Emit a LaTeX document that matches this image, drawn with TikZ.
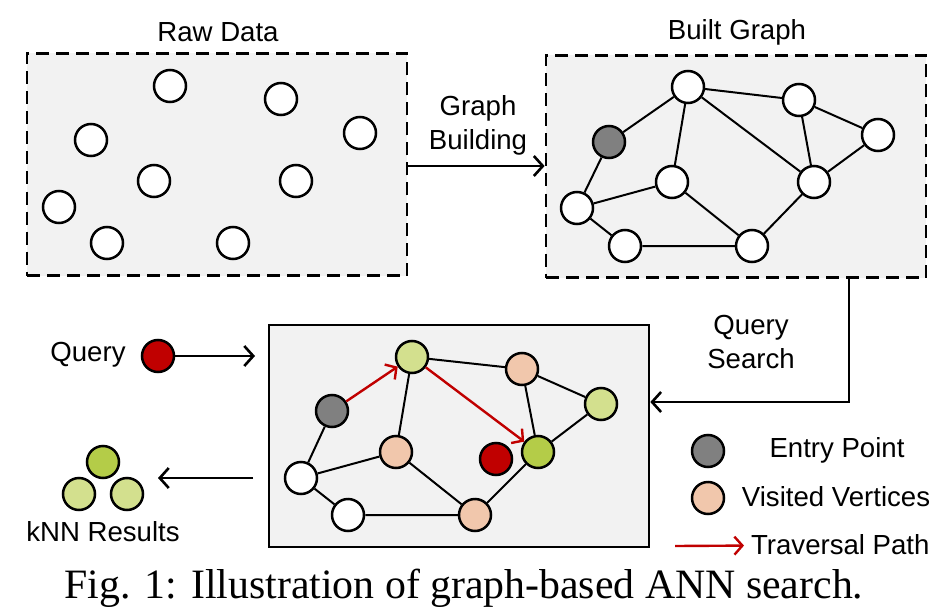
\documentclass[tikz,border=0pt]{standalone}
\usepackage{fontspec}
\setmainfont{Liberation Serif}
\newfontfamily\arialfont{Liberation Sans}
\usetikzlibrary{arrows.meta}

\definecolor{boxgray}{HTML}{F2F2F2}
\definecolor{entrygray}{HTML}{808080}
\definecolor{visitedpink}{HTML}{F1C7AC}
\definecolor{lightgreen}{HTML}{D3E08E}
\definecolor{resultgreen}{HTML}{B4CC48}
\definecolor{queryred}{HTML}{C00000}

\begin{document}
\begin{tikzpicture}[
            x=0.5pt, y=-0.5pt,
            every node/.style={font=\arialfont\fontsize{13.8}{17.3}\selectfont},
            vertex/.style={circle,draw,line width=1.25pt,fill=white,minimum size=16pt,inner sep=0pt},
            panel/.style={draw,fill=boxgray,minimum width=190pt,minimum height=111pt,inner sep=0pt},
            dashed panel/.style={panel,line width=1.4pt,dash pattern=on 6.5pt off 3.5pt},
            edge/.style={line width=1pt},
            flow/.style={line width=1.3pt,-{Straight Barb[length=4.5pt,width=10pt,line width=1.3pt]}},
            path arrow/.style={line width=1.2pt,draw=queryred,-{Straight Barb[length=4pt,width=9pt,line width=1.2pt]}},
            ]
            \useasboundingbox (0,0) rectangle (951,609);

            % raw data
            \node[dashed panel] (raw) at (217,164.5) {};
            \node at (218,32) {Raw Data};
            \node[vertex] (r1) at (170,86) {};
            \node[vertex] (r2) at (281,99) {};
            \node[vertex] (r3) at (360,133) {};
            \node[vertex] (r4) at (91,140) {};
            \node[vertex] (r5) at (154,181) {};
            \node[vertex] (r6) at (296,181) {};
            \node[vertex] (r7) at (59,207) {};
            \node[vertex] (r8) at (107,243) {};
            \node[vertex] (r9) at (233,243) {};

            % built graph
            \node[dashed panel] (built) at (736,166.5) {};
            \node at (737,32) {Built Graph};
            \node[vertex] (b1) at (688,87) {};
            \node[vertex] (b2) at (799,100) {};
            \node[vertex] (b3) at (878,135) {};
            \node[vertex, fill=entrygray] (b4) at (609,142) {};
            \node[vertex] (b5) at (672,182) {};
            \node[vertex] (b6) at (814,182) {};
            \node[vertex] (b7) at (577,208) {};
            \node[vertex] (b8) at (625,246) {};
            \node[vertex] (b9) at (752,246) {};

            \draw[edge] (b4) -- (b1) -- (b2) -- (b3) -- (b6) -- (b2);
            \draw[edge] (b1) -- (b5) -- (b7) -- (b4);
            \draw[edge] (b1) -- (b6) -- (b9) -- (b8) -- (b7);
            \draw[edge] (b5) -- (b9);

            \draw[flow] (raw.east |- 0,166) -- (built.west |- 0,166);
            \node[align=center] at (478,125.5) {Graph\\Building};

            % search
            \node[panel, line width=1.3pt] (search) at (459,436) {};
            \node[vertex, fill=entrygray] (s1) at (332,411) {};
            \node[vertex, fill=lightgreen] (s2) at (412,357) {};
            \node[vertex, fill=visitedpink] (s3) at (396,452) {};
            \node[vertex] (s4) at (301,478) {};
            \node[vertex] (s5) at (348,515) {};
            \node[vertex, fill=visitedpink] (s6) at (475,515) {};
            \node[vertex, fill=visitedpink] (s7) at (522,369) {};
            \node[vertex, fill=lightgreen] (s8) at (601,404) {};
            \node[vertex, fill=resultgreen] (s9) at (538,452) {};
            \node[vertex, fill=queryred] (s10) at (496,459) {};

            \draw[edge] (s1) -- (s4) -- (s3) -- (s2) -- (s7) -- (s8) -- (s9) -- (s7);
            \draw[edge] (s4) -- (s5) -- (s6) -- (s3);
            \draw[edge] (s6) -- (s9);
            \draw[path arrow] (s1) -- (s2);
            \draw[path arrow] (s2) -- (s9);

            \draw[flow] ([xshift=56.5pt]built.south) |- ([yshift=17pt]search.east);
            \node[align=center] at (751,342) {Query\\Search};

            % query and results
            \node at (88,355) {Query};
            \node[vertex, fill=queryred] (q) at (158,356) {};
            \coordinate (qend) at (255,356);
            \draw[flow] (q) -- (qend);

            \node[vertex, fill=resultgreen] (k1) at (103,462) {};
            \node[vertex, fill=lightgreen] (k2) at (79,494) {};
            \node[vertex, fill=lightgreen] (k3) at (127,494) {};
            \node at (103,532) {kNN Results};
            \coordinate (kstart) at (253,478);
            \coordinate (kend) at (158,478);
            \draw[flow] (kstart) -- (kend);

            % legend
            \node[vertex, fill=entrygray] (l1) at (708,451) {};
            \node at (837,450) {Entry Point};
            \node[vertex, fill=visitedpink] (l2) at (708,498) {};
            \node at (836,497) {Visited Vertices};
            \coordinate (l3) at (675,546);
            \node[anchor=west] (trav) at (744,545) {Traversal Path};
            \draw[path arrow] (l3) -- (trav);

            \node[font=\rmfamily\fontsize{20.9}{24}\selectfont, anchor=base] (caption) at (464,598)
                {Fig. 1: Illustration of graph-based ANN search.};
        \end{tikzpicture}
\end{document}
